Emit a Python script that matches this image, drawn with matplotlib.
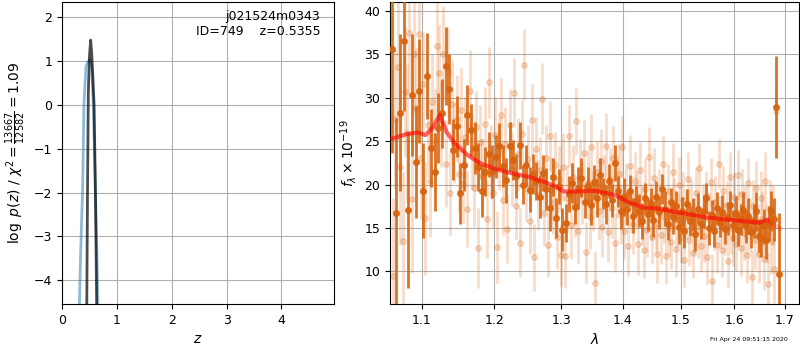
import numpy as np
import matplotlib
matplotlib.use("Agg")
import matplotlib.pyplot as plt
from matplotlib.ticker import NullLocator, NullFormatter, FixedLocator, FixedFormatter

plt.rcParams["font.size"] = 9
plt.rcParams["axes.labelsize"] = 10

# --- p(z) panel ---
z_prior = [0.28, 0.31, 0.34, 0.377, 0.40, 0.437, 0.47, 0.51, 0.54, 0.57, 0.607, 0.64, 0.66, 0.69]
logp_prior = [-7.0, -4.9, -3.38, -1.87, 0.04, 0.87, 0.98, 1.03, 0.9, 0.04, -1.87, -3.6, -4.9, -7.0]

z_fit = [0.42, 0.45, 0.465, 0.48, 0.50, 0.523, 0.54, 0.56, 0.585, 0.61, 0.635, 0.66]
logp_fit = [-8.0, -4.9, -2.0, 0.3, 1.1, 1.48, 1.2, 0.7, 0.0, -2.0, -4.9, -8.0]

# --- spectrum panel ---
wave_dark = [
    1.062, 1.067, 1.072, 1.077, 1.082, 1.087, 1.092, 1.097, 1.102, 1.107,
    1.112, 1.117, 1.122, 1.127, 1.132, 1.137, 1.142, 1.147, 1.152, 1.157,
    1.162, 1.167, 1.172, 1.177, 1.182, 1.187, 1.192, 1.197, 1.202, 1.207,
    1.212, 1.217, 1.222, 1.227, 1.232, 1.237, 1.242, 1.247, 1.252, 1.257,
    1.262, 1.267, 1.272, 1.277, 1.282, 1.287, 1.292, 1.297, 1.302, 1.307,
    1.312, 1.317, 1.322, 1.327, 1.332, 1.337, 1.342, 1.347, 1.352, 1.357,
    1.362, 1.367, 1.372, 1.377, 1.382, 1.387, 1.392, 1.397, 1.402, 1.407,
    1.412, 1.417, 1.422, 1.427, 1.432, 1.437, 1.442, 1.447, 1.452, 1.457,
    1.462, 1.467, 1.472, 1.477, 1.482, 1.487, 1.492, 1.497, 1.502, 1.507,
    1.512, 1.517, 1.522, 1.527, 1.532, 1.537, 1.542, 1.547, 1.552, 1.557,
    1.562, 1.567, 1.572, 1.577, 1.582, 1.587, 1.592, 1.597, 1.602, 1.607,
    1.612, 1.617, 1.622, 1.627, 1.632, 1.637, 1.642, 1.647, 1.652, 1.657,
    1.662, 1.667, 1.672, 1.677, 1.682, 1.687,
]
flux_dark = [
    35.6, 16.7, 28.3, 36.5, 17.1, 30.3, 22.6, 30.8, 19.3, 32.5,
    24.2, 21.4, 26.5, 28.2, 33.7, 31.0, 24.0, 26.7, 19.0, 22.3,
    28.0, 26.3, 24.2, 22.0, 19.3, 21.5, 23.5, 21.5, 23.2, 24.4,
    22.1, 20.5, 24.4, 22.8, 21.0, 24.5, 20.0, 22.2, 19.4, 21.2,
    20.4, 18.6, 21.3, 19.5, 17.3, 20.9, 16.1, 19.8, 14.8, 15.6,
    18.9, 20.2, 17.4, 19.6, 20.8, 18.0, 19.9, 17.6, 20.3, 18.5,
    21.1, 19.0, 17.7, 20.4, 18.2, 22.5, 19.2, 16.9, 18.6, 17.2,
    19.3, 16.4, 18.1, 17.0, 15.8, 18.4, 16.6, 17.9, 15.9, 18.6,
    16.8, 19.5, 17.2, 15.4, 18.0, 16.2, 17.5, 15.1, 16.9, 14.6,
    17.7, 15.8, 16.6, 14.3, 17.2, 15.4, 16.9, 18.4, 15.0, 16.5,
    14.7, 17.3, 15.6, 16.8, 14.9, 16.1, 17.6, 15.3, 16.7, 14.8,
    16.0, 17.1, 15.2, 16.4, 14.5, 15.8, 16.9, 14.1, 13.8, 15.2,
    13.6, 15.5, 17.0, 16.0, 28.9, 9.7,
]
err_dark = [
    12, 11, 9, 8, 9, 7, 6.5, 6, 5.5, 5,
    4.5, 4.5, 4, 4, 4.5, 4, 3.5, 3.5, 3.5, 3,
    3.5, 3, 3, 2.8, 3, 2.8, 2.6, 3, 2.5, 2.7,
    2.4, 2.6, 2.8, 2.3, 2.5, 2.7, 2.2, 2.4, 2.6, 2.3,
    2.2, 2.5, 2.1, 2.4, 2.6, 2.2, 2.3, 2.0, 2.5, 2.2,
    2.1, 2.3, 2.0, 2.4, 2.2, 1.9, 2.1, 2.3, 2.0, 2.2,
    2.0, 1.8, 2.2, 2.0, 1.9, 2.1, 1.8, 2.0, 2.2, 1.9,
    1.8, 2.0, 1.7, 1.9, 2.1, 1.8, 1.9, 1.7, 2.0, 1.8,
    1.9, 1.7, 2.0, 1.8, 1.6, 1.9, 1.8, 2.0, 1.7, 1.9,
    1.8, 1.7, 1.9, 2.0, 1.8, 1.7, 1.9, 1.8, 2.0, 1.7,
    1.9, 1.8, 1.7, 2.0, 1.8, 1.9, 1.7, 1.8, 2.0, 1.9,
    1.8, 2.0, 1.9, 2.1, 1.8, 2.0, 2.2, 1.9, 2.1, 2.0,
    2.2, 2.0, 2.3, 2.5, 5.9, 7.0,
]

wave_light = [
    1.063, 1.066, 1.069, 1.072, 1.075, 1.078, 1.081, 1.084, 1.087, 1.090,
    1.093, 1.096, 1.099, 1.102, 1.105, 1.108, 1.111, 1.114, 1.117, 1.120,
    1.123, 1.126, 1.129, 1.132, 1.135, 1.138, 1.141, 1.144, 1.147, 1.150,
    1.153, 1.156, 1.159, 1.162, 1.165, 1.168, 1.171, 1.174, 1.177, 1.180,
    1.183, 1.186, 1.189, 1.192, 1.195, 1.198, 1.201, 1.204, 1.207, 1.210,
    1.213, 1.216, 1.219, 1.222, 1.225, 1.228, 1.231, 1.234, 1.237, 1.240,
    1.243, 1.246, 1.249, 1.252, 1.255, 1.258, 1.261, 1.264, 1.267, 1.270,
    1.273, 1.276, 1.279, 1.282, 1.285, 1.288, 1.291, 1.294, 1.297, 1.300,
    1.303, 1.306, 1.309, 1.312, 1.315, 1.318, 1.321, 1.324, 1.327, 1.330,
    1.333, 1.336, 1.339, 1.342, 1.345, 1.348, 1.351, 1.354, 1.357, 1.360,
    1.363, 1.366, 1.369, 1.372, 1.375, 1.378, 1.381, 1.384, 1.387, 1.390,
    1.393, 1.396, 1.399, 1.402, 1.405, 1.408, 1.411, 1.414, 1.417, 1.420,
    1.423, 1.426, 1.429, 1.432, 1.435, 1.438, 1.441, 1.444, 1.447, 1.450,
    1.453, 1.456, 1.459, 1.462, 1.465, 1.468, 1.471, 1.474, 1.477, 1.480,
    1.483, 1.486, 1.489, 1.492, 1.495, 1.498, 1.501, 1.504, 1.507, 1.510,
    1.513, 1.516, 1.519, 1.522, 1.525, 1.528, 1.531, 1.534, 1.537, 1.540,
    1.543, 1.546, 1.549, 1.552, 1.555, 1.558, 1.561, 1.564, 1.567, 1.570,
    1.573, 1.576, 1.579, 1.582, 1.585, 1.588, 1.591, 1.594, 1.597, 1.600,
    1.603, 1.606, 1.609, 1.612, 1.615, 1.618, 1.621, 1.624, 1.627, 1.630,
    1.633, 1.636, 1.639, 1.642, 1.645, 1.648, 1.651, 1.654, 1.657, 1.660,
    1.663, 1.666, 1.669, 1.672, 1.675, 1.678, 1.681,
]
flux_light = [
    9.5, 27.5, 33.6, 22.0, 13.5, 30.7, 25.9, 37.5, 18.3, 35.0,
    28.8, 37.4, 23.0, 31.6, 16.1, 26.9, 20.4, 29.5, 25.0, 36.0,
    32.9, 27.0, 35.1, 22.4, 33.0, 19.0, 29.3, 24.8, 27.6, 21.2,
    28.6, 20.1, 25.5, 17.2, 30.8, 23.8, 19.6, 26.6, 12.7, 24.9,
    21.0, 27.0, 16.0, 31.8, 22.6, 19.0, 25.7, 12.8, 23.6, 28.0,
    18.2, 24.7, 14.9, 26.9, 21.8, 30.6, 17.5, 23.5, 13.3, 25.8,
    33.8, 19.6, 22.9, 15.8, 27.4, 11.6, 24.1, 18.8, 21.7, 29.9,
    16.7, 23.0, 13.0, 25.6, 19.4, 17.9, 22.2, 14.0, 20.6, 11.9,
    22.0, 11.8, 18.5, 25.6, 15.3, 20.9, 17.4, 27.3, 14.6, 21.6,
    19.0, 23.6, 12.2, 20.3, 16.2, 24.3, 18.1, 8.6, 21.4, 17.0,
    22.7, 15.1, 19.8, 24.4, 14.5, 20.6, 17.3, 23.0, 13.3, 19.7,
    21.2, 16.5, 24.3, 14.7, 19.0, 12.9, 22.1, 17.7, 15.5, 20.4,
    18.3, 13.1, 21.7, 16.4, 12.5, 19.5, 14.8, 23.2, 16.9, 13.9,
    20.8, 15.6, 12.0, 18.7, 14.2, 22.4, 16.3, 11.8, 19.3, 15.0,
    13.4, 21.5, 17.7, 12.6, 15.9, 19.9, 14.0, 18.2, 11.3, 16.6,
    20.6, 13.6, 17.4, 12.1, 15.2, 19.0, 14.6, 21.9, 12.9, 16.9,
    14.1, 18.7, 11.6, 16.0, 20.3, 8.9, 15.4, 18.0, 13.0, 22.4,
    15.7, 12.4, 19.2, 14.9, 17.6, 11.2, 20.9, 15.0, 13.8, 18.6,
    13.1, 21.1, 16.2, 12.7, 18.9, 14.4, 16.8, 11.9, 20.2, 15.3,
    9.3, 17.5, 13.6, 19.6, 14.7, 12.0, 18.4, 16.0, 11.4, 20.4,
    14.3, 8.5, 17.2, 13.5, 16.4, 10.3, 28.5,
]
err_light = [
    9, 8, 8.5, 9, 8, 7.5, 8, 7, 8.5, 7,
    7, 6.5, 7, 6, 6.5, 6, 6.5, 5.5, 6, 5.5,
    5.5, 5, 5.5, 5, 5.2, 4.8, 5, 4.6, 5, 4.5,
    4.8, 4.5, 4.6, 4.4, 4.7, 4.3, 4.5, 4.2, 4.6, 4.3,
    4.4, 4.2, 4.5, 4.1, 4.3, 4.0, 4.4, 4.1, 4.2, 4.3,
    4.0, 4.2, 3.9, 4.1, 4.3, 4.0, 3.8, 4.2, 4.0, 3.9,
    4.1, 3.9, 4.0, 3.8, 4.2, 3.9, 3.7, 4.0, 3.8, 4.1,
    3.8, 3.9, 3.7, 4.0, 3.8, 3.6, 3.9, 3.7, 3.8, 3.6,
    3.9, 3.7, 3.8, 3.6, 3.9, 3.7, 3.5, 3.8, 3.6, 3.7,
    3.6, 3.8, 3.5, 3.7, 3.6, 3.8, 3.5, 3.7, 3.6, 3.4,
    3.7, 3.5, 3.6, 3.8, 3.4, 3.6, 3.5, 3.7, 3.4, 3.6,
    3.5, 3.4, 3.6, 3.3, 3.5, 3.4, 3.6, 3.3, 3.5, 3.4,
    3.3, 3.5, 3.2, 3.4, 3.3, 3.5, 3.2, 3.4, 3.3, 3.1,
    3.4, 3.2, 3.3, 3.1, 3.4, 3.2, 3.0, 3.3, 3.1, 3.2,
    3.1, 3.3, 3.0, 3.2, 3.1, 3.3, 3.0, 3.2, 3.1, 2.9,
    3.2, 3.0, 3.1, 2.9, 3.2, 3.0, 3.1, 2.9, 3.0, 3.2,
    3.0, 2.9, 3.1, 3.0, 2.8, 3.1, 2.9, 3.0, 3.2, 2.9,
    3.0, 3.1, 2.9, 3.0, 2.8, 3.1, 2.9, 3.0, 3.2, 2.9,
    3.1, 2.9, 3.0, 3.2, 2.9, 3.1, 3.0, 3.2, 2.9, 3.1,
    3.2, 3.0, 3.3, 3.1, 3.0, 3.4, 3.2, 3.1, 3.5, 3.3,
    3.4, 3.6, 3.3, 3.8, 3.5, 4.0, 3.0,
]

# best-fit template (red line)
model_wave = [1.062, 1.080, 1.095, 1.105, 1.115, 1.124, 1.133, 1.144, 1.162, 1.180,
              1.201, 1.225, 1.250, 1.274, 1.290, 1.304, 1.330, 1.351, 1.367, 1.386,
              1.408, 1.436, 1.459, 1.494, 1.530, 1.548, 1.595, 1.650, 1.657, 1.664]
model_flux = [25.3, 25.8, 26.0, 25.7, 26.6, 28.0, 26.1, 24.75, 23.4, 22.45,
              21.8, 21.3, 20.9, 20.3, 19.8, 19.2, 19.2, 19.3, 19.1, 18.8,
              18.0, 17.3, 17.25, 16.8, 16.4, 16.2, 15.9, 15.6, 15.8, 15.9]
model_tail_wave = [1.664, 1.689]
model_tail_flux = [15.9, 14.95]

wave_ticks = [1.1, 1.2, 1.3, 1.4, 1.5, 1.6, 1.7]

orange = "#d8640f"

fig = plt.figure(figsize=(8, 3.5), dpi=100)
ax1 = fig.add_axes([0.0775, 0.1314, 0.34, 0.863])
ax2 = fig.add_axes([0.4875, 0.1314, 0.5115, 0.863])

# left: p(z)
ax1.plot(z_prior, logp_prior, color="tab:blue", alpha=0.5, lw=2)
ax1.plot(z_fit, logp_fit, color="k", alpha=0.7, lw=2)
ax1.set_xlim(0, 4.96)
ax1.set_ylim(-4.54, 2.35)
ax1.set_xticks([0, 1, 2, 3, 4])
ax1.grid()
ax1.set_xlabel(r"$z$")
ax1.set_ylabel(r"$\log\ p(z)$" + " / " + r"$\chi^2=\frac{13667}{12582}=1.09$")
ax1.text(0.95, 0.975, "j021524m0343\nID=749    z=0.5355", ha="right", va="top",
         transform=ax1.transAxes, fontsize=9)

# right: spectrum
ax2.errorbar(wave_light, flux_light, yerr=err_light, fmt="o", color=orange,
             alpha=0.22, ms=4, elinewidth=2, capsize=0, zorder=2)
ax2.errorbar(wave_dark, flux_dark, yerr=err_dark, fmt="o", color=orange,
             alpha=0.9, ms=4, elinewidth=2, capsize=0, zorder=3)
ax2.plot(model_wave, model_flux, color="r", alpha=0.6, lw=3, zorder=4)
ax2.plot(model_tail_wave, model_tail_flux, color="r", alpha=0.25, lw=3, zorder=4)

ax2.set_xscale("log")
ax2.set_xlim(1.059, 1.729)
ax2.set_ylim(6.23, 41.04)
ax2.xaxis.set_major_locator(FixedLocator(wave_ticks))
ax2.xaxis.set_major_formatter(FixedFormatter([str(w) for w in wave_ticks]))
ax2.xaxis.set_minor_locator(NullLocator())
ax2.xaxis.set_minor_formatter(NullFormatter())
ax2.grid()
ax2.set_xlabel(r"$\lambda$")
ax2.set_ylabel(r"$f_\lambda \times 10^{-19}$")

fig.text(0.985, 0.031, "Fri Apr 24 09:51:15 2020", ha="right", va="center", fontsize=4.5)

fig.savefig("out.png", dpi=100)
